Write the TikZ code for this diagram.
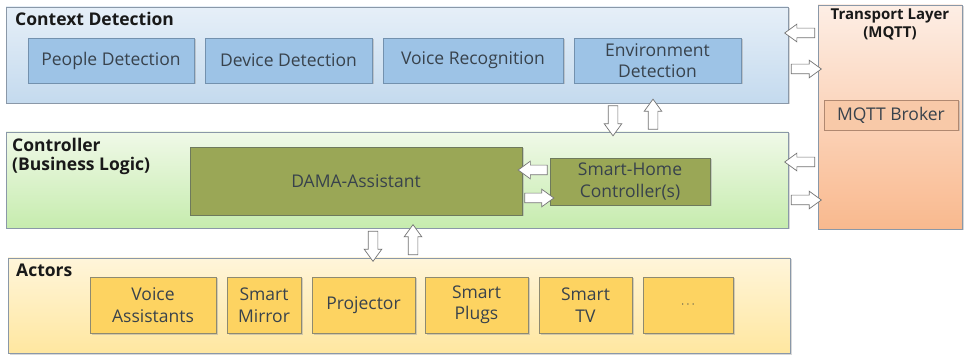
\documentclass[tikz,border=0pt]{standalone}
\usepackage{fontspec}
\setmainfont{Open Sans}
\usetikzlibrary{shapes.arrows,shadows}
\definecolor{ctxtop}{HTML}{E6EFF8}
\definecolor{ctxbot}{HTML}{C4DAEE}
\definecolor{ctxbox}{HTML}{9DC3E6}
\definecolor{ctxline}{HTML}{7391AE}
\definecolor{ctltop}{HTML}{F0F9E8}
\definecolor{ctlbot}{HTML}{C6ECAE}
\definecolor{olive}{HTML}{9AA756}
\definecolor{oliveline}{HTML}{6E7A5C}
\definecolor{trtop}{HTML}{FDEEE5}
\definecolor{trbot}{HTML}{F9B98E}
\definecolor{broker}{HTML}{F8C9A8}
\definecolor{brokerline}{HTML}{B08870}
\definecolor{acttop}{HTML}{FFF5DA}
\definecolor{actbot}{HTML}{FFE7A0}
\definecolor{actbox}{HTML}{FDD361}
\definecolor{actline}{HTML}{8E8A70}
\definecolor{panelline}{HTML}{8A98A8}
\definecolor{txt}{HTML}{38424C}
\tikzset{
  panel/.style={draw=panelline, line width=0.8pt, drop shadow={shadow xshift=1.5pt, shadow yshift=-1.5pt, fill=black!30}},
  inbox/.style={draw=#1, line width=0.8pt, drop shadow={shadow xshift=1.5pt, shadow yshift=-1.5pt, fill=black!35}},
  lbl/.style={text=txt, font=\fontsize{17.5}{21.5}\selectfont, align=center},
  ttl/.style={text=black!90, font=\fontsize{17.5}{19}\selectfont\bfseries, align=left, anchor=north west, inner sep=0pt},
  barrow/.style={single arrow, draw=black!55, fill=white, line width=0.7pt, inner sep=4.5pt, single arrow head extend=4pt, single arrow tip angle=72, single arrow head indent=0pt, minimum height=#1},
}
\begin{document}
\begin{tikzpicture}[x=1pt,y=-1pt]
\useasboundingbox (0,0) rectangle (966,355);
% Context Detection panel
\path[panel, top color=ctxtop, bottom color=ctxbot] (6,7) rectangle (788,103);
\node[ttl] (ctxt) at (15,12) {Context Detection};
\node[inbox=ctxline, fill=ctxbox, lbl, minimum width=166pt, minimum height=45pt] (people) at (111,60.5) {People Detection};
\node[inbox=ctxline, fill=ctxbox, lbl, minimum width=167pt, minimum height=45pt] (device) at (288.5,60.5) {Device Detection};
\node[inbox=ctxline, fill=ctxbox, lbl, minimum width=180pt, minimum height=45pt] (voice) at (473,60.5) {Voice Recognition};
\node[inbox=ctxline, fill=ctxbox, lbl, minimum width=167pt, minimum height=45pt] (env) at (657.5,60.5) {Environment\\Detection};
% Controller panel
\path[panel, top color=ctltop, bottom color=ctlbot] (6,132) rectangle (788,228);
\node[ttl] (ctlt) at (12,138) {Controller\\(Business Logic)};
\node[inbox=oliveline, fill=olive, lbl, minimum width=332pt, minimum height=68pt] (dama) at (356,181) {DAMA-Assistant};
\node[inbox=oliveline, fill=olive, lbl, minimum width=160pt, minimum height=47pt] (shc) at (630,181.5) {Smart-Home\\Controller(s)};
% Actors panel
\path[panel, top color=acttop, bottom color=actbot] (8,258) rectangle (790,353);
\node[ttl] (actt) at (16,264) {Actors};
\node[inbox=actline, fill=actbox, lbl, minimum width=126pt, minimum height=56pt] (va) at (153,305) {Voice\\Assistants};
\node[inbox=actline, fill=actbox, lbl, minimum width=74pt, minimum height=56pt] (sm) at (264,305) {Smart\\Mirror};
\node[inbox=actline, fill=actbox, lbl, minimum width=103pt, minimum height=56pt] (proj) at (363.5,305) {Projector};
\node[inbox=actline, fill=actbox, lbl, minimum width=103pt, minimum height=56pt] (sp) at (476.5,305) {Smart\\Plugs};
\node[inbox=actline, fill=actbox, lbl, minimum width=93pt, minimum height=56pt] (tv) at (585.5,305) {Smart\\TV};
\node[inbox=actline, fill=actbox, lbl, minimum width=90pt, minimum height=56pt] (more) at (688,305) {\fontsize{12}{12}\selectfont $\cdots$};
% Transport layer
\path[panel, top color=trtop, bottom color=trbot] (818,5) rectangle (962,229);
\node[text=black!90, font=\fontsize{15}{18}\selectfont\bfseries, align=center, anchor=north, inner sep=0pt] (trt) at (890,9) {Transport Layer\\(MQTT)};
\node[inbox=brokerline, fill=broker, lbl, minimum width=134pt, minimum height=30pt] (mqtt) at (891,115) {MQTT Broker};
% Block arrows: context <-> transport
\node[barrow=30pt, shape border rotate=180] (a1) at (803,33) {};
\node[barrow=30pt] (a2) at (803,69) {};
% controller <-> transport
\node[barrow=30pt, shape border rotate=180] (a3) at (803,162) {};
\node[barrow=30pt] (a4) at (803,200) {};
% DAMA <-> Smart-Home
\node[barrow=29pt, shape border rotate=180] (a5) at (536,170) {};
\node[barrow=29pt] (a6) at (536,198) {};
% context <-> controller
\node[barrow=30pt, shape border rotate=270] (a7) at (613,117.5) {};
\node[barrow=30pt, shape border rotate=90] (a8) at (653,117.5) {};
% controller <-> actors
\node[barrow=30pt, shape border rotate=270] (a9) at (373,243) {};
\node[barrow=30pt, shape border rotate=90] (a10) at (413,243) {};
\end{tikzpicture}
\end{document}
